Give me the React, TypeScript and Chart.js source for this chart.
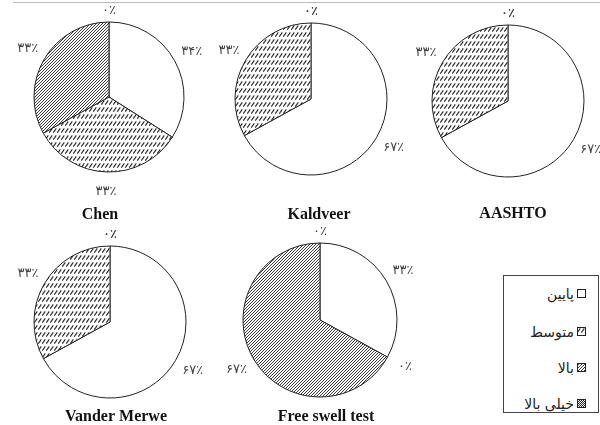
import React, { useEffect, useRef } from "react";
import { Chart, registerables } from "chart.js";

Chart.register(...registerables);

// ---- data ----
const categories = ["پایین", "متوسط", "بالا", "خیلی بالا"];
const chartTitles = ["Chen", "Kaldveer", "AASHTO", "Vander Merwe", "Free swell test"];
const chenValues = [34, 33, 33, 0];
const kaldveerValues = [67, 33, 0, 0];
const aashtoValues = [67, 33, 0, 0];
const vanderMerweValues = [67, 33, 0, 0];
const freeSwellValues = [33, 0, 67, 0];
const seriesValues = [chenValues, kaldveerValues, aashtoValues, vanderMerweValues, freeSwellValues];

// ---- layout (positions only) ----
const pieLayout = [
  { cx: 109, cy: 97, r: 75, tx: 100, ty: 215 },
  { cx: 311, cy: 99, r: 76, tx: 319, ty: 215 },
  { cx: 508, cy: 101, r: 76, tx: 513, ty: 214 },
  { cx: 110, cy: 322, r: 76, tx: 116, ty: 417 },
  { cx: 320, cy: 320, r: 77, tx: 326, ty: 417 },
];

const PERSIAN = "۰۱۲۳۴۵۶۷۸۹";
const toPersian = (n: number) => String(n).replace(/[0-9]/g, (d) => PERSIAN[Number(d)]);

type Kind = "white" | "dash" | "hatch" | "dense";
const kinds: Kind[] = ["white", "dash", "hatch", "dense"];

function makePattern(ctxTarget: CanvasRenderingContext2D, kind: Kind): any {
  if (kind === "white") return "#ffffff";
  const c = document.createElement("canvas");
  const g = c.getContext("2d")!;
  if (kind === "dash") {
    c.width = 4;
    c.height = 7;
    g.fillStyle = "#fff";
    g.fillRect(0, 0, 4, 7);
    g.strokeStyle = "#2a2a2a";
    g.lineWidth = 1.1;
    g.beginPath();
    g.moveTo(0.3, 5.6);
    g.lineTo(3.3, 1.4);
    g.stroke();
  } else {
    const s = kind === "hatch" ? 3 : 2;
    c.width = s;
    c.height = s;
    g.fillStyle = "#fff";
    g.fillRect(0, 0, s, s);
    g.strokeStyle = kind === "hatch" ? "#3a3a3a" : "#222";
    g.lineWidth = 1;
    g.beginPath();
    g.moveTo(-1, s + 1);
    g.lineTo(s + 1, -1);
    g.moveTo(-1 - s, s + 1 - s);
    g.lineTo(s + 1 - s, -1 - s);
    g.moveTo(-1 + s, s + 1 + s);
    g.lineTo(s + 1 + s, -1 + s);
    g.stroke();
  }
  return ctxTarget.createPattern(c, "repeat");
}

const outerLabels = {
  id: "outerLabels",
  afterDatasetsDraw(chart: any, _args: any, opts: any) {
    const { ctx } = chart;
    const meta = chart.getDatasetMeta(0);
    const values = chart.data.datasets[0].data as number[];
    ctx.save();
    ctx.font = '13px "DejaVu Sans", sans-serif';
    ctx.fillStyle = "#444";
    ctx.textAlign = "center";
    ctx.textBaseline = "middle";
    meta.data.forEach((arc: any, i: number) => {
      const p = arc.getProps(["startAngle", "endAngle", "x", "y", "outerRadius"], true);
      const mid = (p.startAngle + p.endAngle) / 2;
      const up = Math.max(0, -Math.sin(mid));
      const d = p.outerRadius + 20 - 9 * Math.pow(up, 4);
      ctx.fillText(toPersian(values[i]) + "٪", p.x + Math.cos(mid) * d, p.y + Math.sin(mid) * d);
    });
    ctx.font = 'bold 16px "Liberation Serif", "Times New Roman", serif';
    ctx.fillStyle = "#111";
    ctx.fillText(opts.title, opts.tx, opts.ty);
    ctx.restore();
  },
};

const CW = 240;
const CH = 250;

function PieChart({ index }: { index: number }) {
  const ref = useRef<HTMLCanvasElement>(null);
  const lay = pieLayout[index];
  const left = lay.cx - CW / 2;
  const top = lay.cy - 110;
  useEffect(() => {
    const canvas = ref.current!;
    const ctx = canvas.getContext("2d")!;
    const fills = kinds.map((k) => makePattern(ctx, k));
    const chart = new Chart(canvas, {
      type: "pie",
      data: {
        labels: categories,
        datasets: [
          {
            data: seriesValues[index],
            backgroundColor: fills,
            borderColor: "#222",
            borderWidth: 1,
          },
        ],
      },
      options: {
        responsive: false,
        animation: false,
        events: [],
        radius: lay.r,
        layout: { padding: { top: 10, bottom: CH - 10 - 200, left: 0, right: 0 } },
        plugins: {
          legend: { display: false },
          tooltip: { enabled: false },
          outerLabels: { title: chartTitles[index], tx: lay.tx - left, ty: lay.ty - top },
        } as any,
      } as any,
      plugins: [outerLabels],
    });
    return () => chart.destroy();
  }, [index]);
  return (
    <canvas
      ref={ref}
      width={CW}
      height={CH}
      style={{ position: "absolute", left, top, width: CW, height: CH }}
    />
  );
}

function Swatch({ kind }: { kind: Kind }) {
  const ref = useRef<HTMLCanvasElement>(null);
  useEffect(() => {
    const c = ref.current!;
    const g = c.getContext("2d")!;
    g.fillStyle = makePattern(g, kind);
    g.fillRect(0, 0, c.width, c.height);
    g.strokeStyle = "#222";
    g.lineWidth = 1;
    g.strokeRect(0.5, 0.5, c.width - 1, c.height - 1);
  }, [kind]);
  return <canvas ref={ref} width={9} height={9} style={{ display: "block", width: 9, height: 9 }} />;
}

const legendRowY = [18, 56, 92, 128];

export default function App() {
  return (
    <div
      style={{
        position: "absolute",
        left: 0,
        top: 0,
        width: 600,
        height: 425,
        background: "#fff",
        overflow: "hidden",
      }}
    >
      <div style={{ position: "absolute", left: 13, right: 0, top: 2, height: 1, background: "#bbb" }} />
      {pieLayout.map((_, i) => (
        <PieChart key={i} index={i} />
      ))}
      <div
        style={{
          position: "absolute",
          left: 503,
          top: 275,
          width: 96,
          height: 138,
          boxSizing: "border-box",
          border: "1px solid #444",
          background: "#fff",
        }}
      >
        {categories.map((c, i) => (
          <React.Fragment key={c}>
            <span
              style={{
                position: "absolute",
                right: 24,
                top: legendRowY[i] - 10,
                fontFamily: '"DejaVu Sans", sans-serif',
                fontSize: 14,
                lineHeight: "20px",
                color: "#222",
                direction: "rtl",
                whiteSpace: "nowrap",
              }}
            >
              {c}
            </span>
            <div style={{ position: "absolute", left: 73, top: legendRowY[i] - 5 }}>
              <Swatch kind={kinds[i]} />
            </div>
          </React.Fragment>
        ))}
      </div>
    </div>
  );
}
